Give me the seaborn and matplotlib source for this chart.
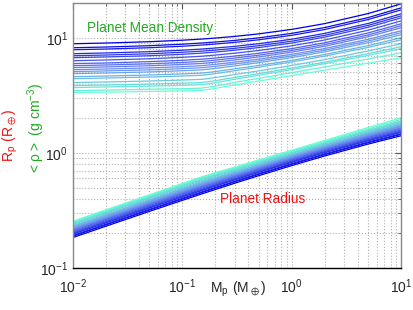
import numpy as np
import pandas as pd
import matplotlib
matplotlib.use("Agg")
import matplotlib.pyplot as plt
import seaborn as sns

# planet mass grid (Earth masses)
masses = [0.01, 0.02, 0.05, 0.1, 0.15, 0.2, 0.3, 0.5, 1.0, 2.0, 5.0, 10.0]

# mean density curves (g cm^-3), densest first
density_curves = [
    [8.87, 9.00, 9.24, 9.52, 9.74, 9.94, 10.27, 10.81, 11.82, 13.27, 16.23, 19.70],
    [8.19, 8.31, 8.53, 8.79, 9.00, 9.18, 9.48, 9.98, 10.92, 12.26, 14.98, 18.18],
    [7.87, 7.98, 8.19, 8.44, 8.64, 8.82, 9.12, 9.60, 10.50, 11.79, 14.41, 17.47],
    [7.27, 7.38, 7.57, 7.79, 7.98, 8.14, 8.42, 8.88, 9.71, 10.91, 13.32, 16.14],
    [6.98, 7.08, 7.26, 7.48, 7.65, 7.81, 8.09, 8.53, 9.34, 10.49, 12.81, 15.49],
    [6.71, 6.81, 6.98, 7.18, 7.35, 7.51, 7.79, 8.22, 9.00, 10.12, 12.33, 14.89],
    [6.32, 6.41, 6.57, 6.76, 6.91, 7.07, 7.34, 7.75, 8.51, 9.56, 11.64, 14.03],
    [5.96, 6.04, 6.20, 6.37, 6.51, 6.66, 6.93, 7.33, 8.05, 9.05, 11.01, 13.23],
    [5.72, 5.80, 5.94, 6.10, 6.23, 6.39, 6.66, 7.06, 7.76, 8.72, 10.59, 12.70],
    [5.50, 5.58, 5.71, 5.86, 5.98, 6.14, 6.41, 6.81, 7.50, 8.43, 10.22, 12.21],
    [5.28, 5.35, 5.47, 5.61, 5.72, 5.87, 6.14, 6.52, 7.18, 8.06, 9.70, 11.50],
    [5.08, 5.15, 5.26, 5.39, 5.49, 5.64, 5.92, 6.30, 6.95, 7.80, 9.37, 11.06],
    [4.88, 4.94, 5.05, 5.17, 5.26, 5.41, 5.69, 6.08, 6.72, 7.55, 9.04, 10.63],
    [4.59, 4.65, 4.75, 4.85, 4.93, 5.08, 5.37, 5.74, 6.36, 7.15, 8.55, 10.00],
    [4.41, 4.47, 4.56, 4.65, 4.72, 4.88, 5.17, 5.55, 6.16, 6.92, 8.25, 9.60],
    [4.08, 4.13, 4.21, 4.29, 4.35, 4.51, 4.79, 5.16, 5.74, 6.46, 7.68, 8.89],
    [3.84, 3.89, 3.96, 4.03, 4.08, 4.23, 4.52, 4.88, 5.45, 6.13, 7.27, 8.36],
    [3.69, 3.74, 3.80, 3.86, 3.91, 4.06, 4.36, 4.72, 5.29, 5.95, 7.02, 8.04],
    [3.47, 3.51, 3.57, 3.61, 3.65, 3.80, 4.09, 4.44, 4.97, 5.58, 6.54, 7.40],
    [3.34, 3.37, 3.42, 3.46, 3.49, 3.63, 3.89, 4.21, 4.69, 5.23, 6.02, 6.71],
]

RHO_EARTH = 5.514  # g cm^-3

rows = []
for i, dens in enumerate(density_curves):
    for m, rho in zip(masses, dens):
        # radius from the mean density definition, Earth units
        rows.append({"curve": i, "mass": m, "density": rho,
                     "radius": (RHO_EARTH * m / rho) ** (1.0 / 3.0)})
df = pd.DataFrame(rows)

# blue -> periwinkle -> aquamarine
n = len(density_curves)
stops = np.array([[0.0, 0.0, 0.9], [0.42, 0.52, 0.95], [0.40, 1.0, 0.82]])
colors = []
for k in range(n):
    t = 2.0 * k / (n - 1)
    j = min(int(t), 1)
    colors.append(tuple(stops[j] + (stops[j + 1] - stops[j]) * (t - j)))

sns.set_style("white")
plt.rcParams["font.family"] = ["Liberation Sans", "DejaVu Sans"]
plt.rcParams["mathtext.default"] = "regular"

fig = plt.figure(figsize=(4.14, 3.10), dpi=100)
ax = fig.add_axes([0.176, 0.1355, 0.793, 0.8545])

sns.lineplot(data=df, x="mass", y="density", hue="curve", palette=colors,
             legend=False, ax=ax, linewidth=0.9, estimator=None, sort=False)
sns.lineplot(data=df, x="mass", y="radius", hue="curve", palette=colors,
             legend=False, ax=ax, linewidth=0.9, estimator=None, sort=False)

ax.set_xscale("log")
ax.set_yscale("log")
ax.set_xlim(0.01, 10)
ax.set_ylim(0.1, 20)
ax.set_xlabel("")
ax.set_ylabel("")

ax.grid(True, which="both", linestyle=":", color="#b0b0b0", linewidth=0.8)
ax.tick_params(which="both", direction="in", top=True, right=True,
               labelsize=10, color="#555555")
ax.tick_params(which="major", length=4)
ax.tick_params(which="minor", length=2)
ax.tick_params(axis="x", pad=7)
for side in ["left", "top", "right"]:
    ax.spines[side].set_color("#888888")
ax.spines["bottom"].set_color("black")
for s in ax.spines.values():
    s.set_linewidth(1.0)

ax.text(0.0134, 12.2, "Planet Mean Density", color="#22aa22", fontsize=9.8,
        va="center")
ax.text(0.223, 0.395, "Planet Radius", color="#ee1111", fontsize=9.8,
        va="center")

fig.text(0.575, 0.068, r"$M_p\ (M_\oplus)$", ha="center", va="center", fontsize=10)
fig.text(0.024, 0.565, r"$R_p\ (R_\oplus)$", color="#ee1111", rotation=90,
         ha="center", va="center", fontsize=10)
fig.text(0.087, 0.585, r"$<\rho>\ (g\ cm^{-3})$", color="#22aa22", rotation=90,
         ha="center", va="center", fontsize=10)

fig.savefig("out.png", dpi=100)
